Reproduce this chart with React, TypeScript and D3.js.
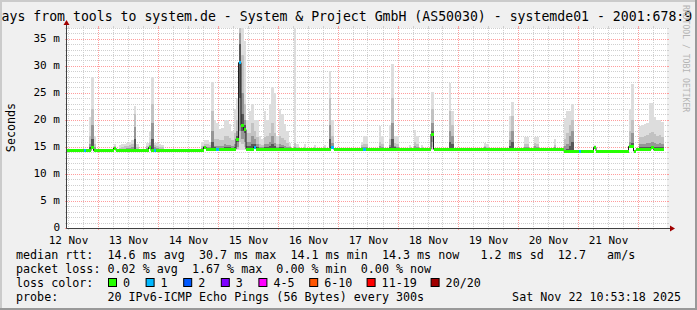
import React from "react";
import * as d3 from "d3";

// ---------- data (hours counted from 12 Nov 2025 00:00, hourly consolidation) ----------
const medianLevels: [number, number, number][] = [
  [11, 65, 14.3],
  [66, 209, 14.6],
  [210, 238, 14.25],
  [239, 249, 14.5],
];
const medianPeaks: [number, number][] = [
  [21, 15.0], [30, 14.8], [44, 14.9], [66, 15.0], [79, 16.5], [80, 30.6], [81, 19.0],
  [82, 18.2], [86, 15.0], [117, 15.0], [157, 17.4], [222, 14.9], [236, 15.1], [237, 15.1], [245, 15.0],
];
const lossOneHours = [18, 46, 71, 80, 86, 117, 130, 216];

// hour, max, p90, p75, p60 (ms)
const smokeUpper: [number, number, number, number, number][] = [
  [20, 20.5, 17, 15.5, 14.9], [21, 28, 22, 19, 16.5], [22, 17, 15.5, 15, 14.7],
  [30, 15.6, 15.2, 14.9, 14.8], [32, 15.3, 14.8, 14.5, 14.4], [33, 15.5, 15, 14.6, 14.4],
  [34, 15.6, 15.1, 14.7, 14.5], [35, 15.8, 15.2, 14.8, 14.5], [36, 16.0, 15.3, 14.8, 14.5],
  [37, 16.2, 15.5, 15, 14.6], [38, 22.6, 21, 18.7, 16.5], [39, 15.5, 15, 14.7, 14.5],
  [43, 15.8, 15.2, 14.8, 14.5], [44, 18, 16, 15.3, 15.0], [45, 28, 23, 19.5, 16.5],
  [46, 15.8, 15.3, 14.9, 14.6], [47, 15.7, 15.2, 14.8, 14.5], [48, 15.5, 15, 14.7, 14.5],
  [49, 15.3, 14.9, 14.6, 14.4], [65, 16.0, 15.2, 14.8, 14.6], [66, 16.2, 15.6, 15.2, 15.1],
  [67, 16.2, 15.5, 15, 14.8], [68, 16.0, 15.3, 14.9, 14.7], [69, 27.1, 21.7, 18, 16],
  [70, 20, 16.5, 15.2, 14.9], [71, 19.5, 16.5, 15.2, 14.8], [72, 18.4, 16.2, 15.1, 14.8],
  [73, 18.5, 16.3, 15.2, 14.8], [74, 19.9, 17, 15.5, 14.9], [75, 19.9, 17, 15.4, 14.9],
  [76, 19.3, 16.6, 15.3, 14.9], [77, 18, 16.2, 15.2, 14.8], [78, 22, 17.5, 15.6, 15.0],
  [79, 24, 20, 18, 17], [80, 38, 37.5, 36, 34], [81, 37, 32, 25, 21], [82, 34.6, 23, 20, 19],
  [83, 20, 17.5, 16, 15.2], [84, 21.7, 17.5, 16, 15.2], [85, 23, 19.5, 17, 15.6],
  [86, 20, 18, 16.5, 15.6], [87, 20, 16.8, 15.5, 15.0], [88, 17, 15.6, 15.0, 14.8],
  [89, 16.5, 15.4, 14.9, 14.7], [90, 21.7, 16.8, 15.5, 15.0], [91, 20, 17, 15.6, 15.0],
  [92, 23, 17.5, 16, 15.1], [93, 26, 19.5, 17, 15.6], [94, 25, 17.5, 15.8, 15.1],
  [95, 17, 15.6, 15.0, 14.8], [96, 22, 17, 15.6, 15.0], [97, 21, 16.6, 15.4, 14.9],
  [98, 19.3, 16.2, 15.2, 14.8], [99, 18, 15.8, 15.0, 14.8], [100, 15.8, 15.2, 14.9, 14.7],
  [102, 37, 15.8, 15.0, 14.8], [103, 15.6, 15, 14.8, 14.7], [106, 15.5, 15, 14.8, 14.7],
  [110, 15.3, 14.9, 14.7, 14.6], [114, 15.4, 15, 14.8, 14.7], [116, 29.1, 24, 19, 16.5],
  [117, 20, 17, 15.8, 15.2], [129, 16, 15.3, 14.9, 14.7], [130, 17, 15.6, 15.0, 14.8],
  [131, 17.1, 15.6, 15.0, 14.8], [136, 18.8, 16, 15.2, 14.8], [137, 17, 15.5, 15.0, 14.8],
  [140, 19, 16.5, 15.4, 14.9], [141, 30.3, 24, 19.4, 16.5], [142, 17, 15.8, 15.2, 14.9],
  [143, 17, 15.6, 15.0, 14.8], [148, 15.4, 15, 14.8, 14.7], [150, 18.2, 16, 15.2, 14.8],
  [151, 17, 15.5, 15, 14.8], [153, 15.4, 15, 14.8, 14.7], [157, 25.1, 22, 19.5, 18],
  [164, 26.9, 21.7, 18, 16], [165, 21.7, 19, 17, 15.5], [178, 15.7, 15.2, 14.9, 14.7],
  [179, 15.5, 15, 14.8, 14.7], [188, 20.8, 18, 16.2, 15.2], [189, 23.3, 20.8, 18, 16],
  [194, 16.8, 15.6, 15.0, 14.8], [195, 16.8, 15.6, 15.0, 14.8], [198, 16.9, 15.7, 15.1, 14.8],
  [199, 16.9, 15.6, 15.0, 14.8], [206, 16.4, 15.4, 14.9, 14.7], [210, 20.3, 16.5, 15.2, 14.5],
  [211, 21.7, 17.5, 15.6, 14.7], [212, 21.7, 19, 17, 15.2], [213, 23, 20, 18, 16],
  [222, 15.4, 15.1, 14.9, 14.8], [236, 22, 18, 16, 15.2], [237, 26.6, 20, 17.5, 15.8],
  [240, 18.8, 16.8, 15.5, 14.9], [241, 19.0, 16.8, 15.5, 14.9], [242, 19.2, 17.0, 15.6, 14.9],
  [243, 19.5, 17.2, 15.7, 15.0], [244, 23.1, 17.5, 15.8, 15.0], [245, 23.1, 17.8, 16.0, 15.2],
  [246, 20.5, 17.4, 15.8, 15.0], [247, 19.9, 17.0, 15.6, 14.9], [248, 20.0, 17.2, 15.7, 15.0],
  [249, 19.6, 16.9, 15.5, 14.9],
];
// hour, min, p10, p25, p40 (only where the lower pings spread below the median)
const smokeLower: [number, number, number, number, number][] = [
  [79, 14.4, 14.6, 15, 16], [80, 14.5, 16, 18, 24], [81, 14.5, 15.5, 16.5, 18],
  [82, 14.5, 15, 16, 17.5], [157, 14.5, 15, 16, 17],
];

const yTickValues = [0, 5, 10, 15, 20, 25, 30, 35];
const yTickLabels = ["0", "5 m", "10 m", "15 m", "20 m", "25 m", "30 m", "35 m"];
const xDayLabels = ["12 Nov", "13 Nov", "14 Nov", "15 Nov", "16 Nov", "17 Nov", "18 Nov", "19 Nov", "20 Nov", "21 Nov"];

const titleText = "ays from tools to system.de - System & Project GmbH (AS50030) - systemde01 - 2001:678:9";
const legendRtt = "median rtt:  14.6 ms avg  30.7 ms max  14.1 ms min  14.3 ms now   1.2 ms sd  12.7   am/s";
const legendLoss = "packet loss: 0.02 % avg  1.67 % max  0.00 % min  0.00 % now";
const legendProbe = "probe:       20 IPv6-ICMP Echo Pings (56 Bytes) every 300s";
const stampText = "Sat Nov 22 10:53:18 2025";
const lossLabels = ["0", "1", "2", "3", "4-5", "6-10", "11-19", "20/20"];
const lossColors = ["#26ff00", "#00b8ff", "#0059ff", "#7e00ff", "#ff00ff", "#ff5500", "#ff0000", "#a10000"];

const smokeShades = ["#dddddd", "#c2c2c2", "#969696", "#585858"];

// ---------- chart ----------
const W = 697;
const H = 310;
const X0 = 67, X1 = 667, Y0 = 228, Y1 = 28;
const MONO = "'DejaVu Sans Mono', monospace";
const keepSpaces = (s: string) => s.replace(/ /g, "\u00a0");

export default function App() {
  const x = d3
    .scaleUtc()
    .domain([new Date(Date.UTC(2025, 10, 12, 11, 24)), new Date(Date.UTC(2025, 10, 22, 11, 24))])
    .range([X0, X1]);
  const y = d3.scaleLinear().domain([0, 37]).range([Y0, Y1]);
  const base = Date.UTC(2025, 10, 12);
  const hd = (h: number) => new Date(base + h * 3600e3);
  const xh = (h: number) => x(hd(h));

  const med = new Map<number, number>();
  medianLevels.forEach(([a, b, v]) => {
    for (let h = a; h <= b; h++) med.set(h, v);
  });
  medianPeaks.forEach(([h, v]) => med.set(h, v));
  const hours = Array.from(med.keys()).sort((a, b) => a - b);
  const lowMap = new Map(smokeLower.map((r) => [r[0], r]));

  const [d0, d1] = x.domain();
  const minorX = d3.utcHour.every(6)!.range(d0, d1).filter((d) => d.getUTCHours() !== 0);
  const majorX = d3.utcDay.range(d0, d1);
  const minorY = d3.range(1, 38).filter((v) => v % 5 !== 0);
  const majorY = d3.range(0, 37, 5);
  const cy = (v: number) => Math.round(y(v)) + 0.5;
  const cx = (d: Date) => Math.round(x(d)) - 0.5;

  const linePts: [number, number][] = hours.map((h) => [xh(h), y(med.get(h)!)]);
  const last = hours[hours.length - 1];
  linePts.push([xh(last + 1), y(med.get(last)!)]);
  const medLine = d3.line().curve(d3.curveStepAfter)(linePts) || "";

  let boxX = 108;
  const boxes = lossLabels.map((lab, i) => {
    const bx = boxX;
    boxX += 31 + 6.6 * lab.length;
    return { lab, bx, col: lossColors[i] };
  });

  const legendY = [259, 273, 287, 301];

  return (
    <svg width={W} height={H} style={{ display: "block", position: "absolute", left: 0, top: 0 }}>
      <defs>
        <clipPath id="plot">
          <rect x={X0} y={Y1} width={X1 - X0} height={Y0 - Y1} />
        </clipPath>
      </defs>
      <rect x={0} y={0} width={W} height={H} fill="#f0f0f0" />
      <rect x={0} y={0} width={W} height={2} fill="#cbcbcb" />
      <rect x={0} y={0} width={2} height={H} fill="#cbcbcb" />
      <rect x={0} y={H - 2} width={W} height={2} fill="#999999" />
      <rect x={W - 2} y={0} width={2} height={H} fill="#999999" />
      <rect x={X0} y={Y1} width={X1 - X0} height={Y0 - Y1} fill="#ffffff" />

      {/* grid */}
      <g shapeRendering="crispEdges">
        {minorY.map((v) => (
          <g key={"my" + v} stroke="#cfcfcf">
            <line x1={X0} x2={X1} y1={cy(v)} y2={cy(v)} strokeDasharray="1,1" />
            <line x1={X0 - 2} x2={X0} y1={cy(v)} y2={cy(v)} />
            <line x1={X1} x2={X1 + 2} y1={cy(v)} y2={cy(v)} />
          </g>
        ))}
        {minorX.map((d) => (
          <g key={"mx" + d.getTime()} stroke="#cfcfcf">
            <line x1={cx(d)} x2={cx(d)} y1={Y1} y2={Y0} strokeDasharray="1,1" />
            <line x1={cx(d)} x2={cx(d)} y1={Y0} y2={Y0 + 2} />
            <line x1={cx(d)} x2={cx(d)} y1={Y1 - 2} y2={Y1} />
          </g>
        ))}
        {majorY.map((v) => (
          <g key={"My" + v} stroke="#ff9c9c">
            <line x1={X0} x2={X1} y1={cy(v)} y2={cy(v)} strokeDasharray="1,1" />
            <line x1={X0 - 2} x2={X0} y1={cy(v)} y2={cy(v)} />
            <line x1={X1} x2={X1 + 2} y1={cy(v)} y2={cy(v)} />
          </g>
        ))}
        {majorX.map((d) => (
          <g key={"Mx" + d.getTime()} stroke="#ff9c9c">
            <line x1={cx(d)} x2={cx(d)} y1={Y1} y2={Y0} strokeDasharray="1,1" />
            <line x1={cx(d)} x2={cx(d)} y1={Y0} y2={Y0 + 2} />
            <line x1={cx(d)} x2={cx(d)} y1={Y1 - 2} y2={Y1} />
          </g>
        ))}
      </g>

      {/* smoke */}
      <g clipPath="url(#plot)" shapeRendering="crispEdges">
        {[0, 1, 2, 3].map((lvl) =>
          smokeUpper.map((r) => {
            const h = r[0];
            const m = med.get(h) ?? 14.5;
            const lo = lowMap.get(h);
            const hi = r[1 + lvl];
            const low = lo ? lo[1 + lvl] : m - 0.1;
            if (hi <= low) return null;
            const xa = Math.round(xh(h));
            const xb = Math.round(xh(h + 1));
            return (
              <rect
                key={"s" + lvl + "-" + h}
                x={xa}
                width={xb - xa}
                y={y(hi)}
                height={y(low) - y(hi)}
                fill={smokeShades[lvl]}
              />
            );
          })
        )}
      </g>

      {/* median */}
      <g clipPath="url(#plot)">
        <path d={medLine} fill="none" stroke="#202020" strokeWidth={1} />
        <g shapeRendering="crispEdges">
          {hours.map((h) => {
            const xa = Math.round(xh(h));
            const xb = Math.round(xh(h + 1));
            const c = lossOneHours.includes(h) ? lossColors[1] : lossColors[0];
            const ym = y(med.get(h)!);
            return <rect key={"m" + h} x={xa} width={xb - xa} y={Math.round(ym - 1.3)} height={3} fill={c} />;
          })}
        </g>
      </g>

      {/* axes */}
      <g>
        <line x1={X0 - 0.5} x2={X0 - 0.5} y1={Y0 + 0.5} y2={Y1 - 4} stroke="#404040" strokeWidth={1} />
        <line x1={X0 - 0.5} x2={X1 + 4} y1={Y0 + 0.5} y2={Y0 + 0.5} stroke="#404040" strokeWidth={1} />
        <path d={`M${X0 - 3.5},${Y1 - 3} L${X0 + 2.5},${Y1 - 3} L${X0 - 0.5},${Y1 - 8} Z`} fill="#a00000" />
        <path d={`M${X1 + 3},${Y0 - 2.5} L${X1 + 3},${Y0 + 3.5} L${X1 + 8},${Y0 + 0.5} Z`} fill="#a00000" />
      </g>

      {/* tick labels */}
      <g fontFamily={MONO} fontSize={11} fill="#000">
        {yTickValues.map((v, i) => (
          <text key={"yl" + v} x={60} y={y(v) + 3} textAnchor="end">
            {keepSpaces(yTickLabels[i])}
          </text>
        ))}
        {xDayLabels.map((lab, i) => (
          <text key={"xl" + i} x={x(new Date(Date.UTC(2025, 10, 12 + i, 12)))} y={243.8} textAnchor="middle">
            {keepSpaces(lab)}
          </text>
        ))}
      </g>

      <text
        transform="translate(15,127.5) rotate(-90)"
        textAnchor="middle"
        fontFamily={MONO}
        fontSize={11.7}
        fill="#000"
      >
        Seconds
      </text>

      {/* title */}
      <text x={1.5} y={21} fontFamily={MONO} fontSize={13.2} fill="#000">
        {keepSpaces(titleText)}
      </text>

      {/* watermark */}
      <text transform="translate(683,5) rotate(90)" fontFamily={MONO} fontSize={8.1} fill="#b4b4b4">
        {keepSpaces("RRDTOOL / TOBI OETIKER")}
      </text>

      {/* legend */}
      <g fontFamily={MONO} fontSize={11.7} fill="#000">
        <text x={16} y={legendY[0]}>{keepSpaces(legendRtt)}</text>
        <text x={16} y={legendY[1]}>{keepSpaces(legendLoss)}</text>
        <text x={16} y={legendY[2]}>{keepSpaces("loss color:")}</text>
        {boxes.map((b) => (
          <g key={"lb" + b.lab}>
            <rect x={b.bx + 0.5} y={legendY[2] - 8.5} width={8} height={8} fill={b.col} stroke="#000" strokeWidth={1} />
            <text x={b.bx + 15} y={legendY[2]}>{b.lab}</text>
          </g>
        ))}
        <text x={16} y={legendY[3]}>{keepSpaces(legendProbe)}</text>
        <text x={681} y={legendY[3]} textAnchor="end">{keepSpaces(stampText)}</text>
      </g>
    </svg>
  );
}
